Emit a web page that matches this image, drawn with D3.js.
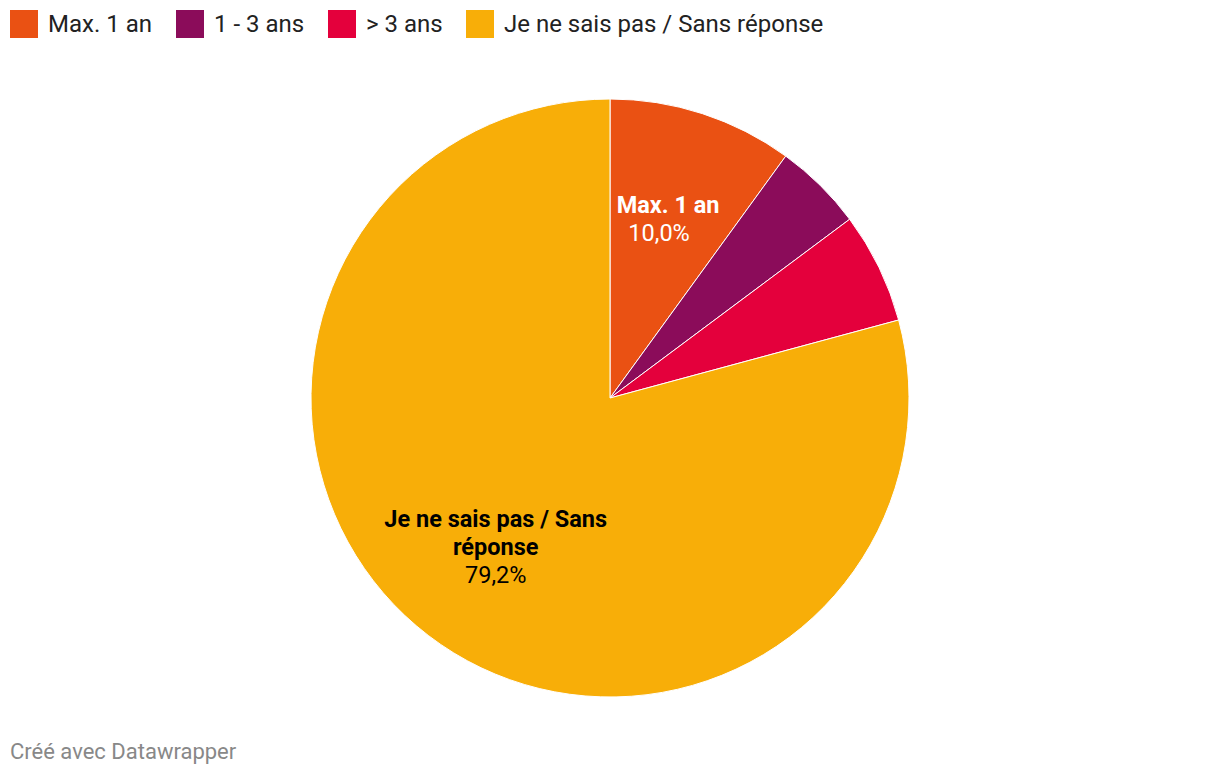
<!DOCTYPE html>
<html><head><meta charset="utf-8">
<script src="https://cdn.jsdelivr.net/npm/d3@7"></script>
<style>
body{margin:0;background:#fff;font-family:Roboto,"Noto Sans",sans-serif;}
</style></head>
<body>
<svg id="c" width="1220" height="774"></svg>
<script>
const categories = ["Max. 1 an", "1 - 3 ans", "> 3 ans", "Je ne sais pas / Sans réponse"];
const values = [10.0, 4.8, 6.0, 79.2];
const colors = ["#ea5113", "#8b0c5a", "#e4003c", "#f8ae08"];
const legendX = [10, 176, 328, 466];

const svg = d3.select("#c");
const cx = 610, cy = 398, R = 299;

const pie = d3.pie().sort(null).value(d => d)(values);
const arc = d3.arc().innerRadius(0).outerRadius(R);
const labelArc = d3.arc().innerRadius(188).outerRadius(188);

const g = svg.append("g").attr("transform", `translate(${cx},${cy})`);
g.selectAll("path").data(pie).join("path")
  .attr("d", arc)
  .attr("fill", (d, i) => colors[i])
  .attr("stroke", "#fff").attr("stroke-width", 1);

// labels for large slices
const labelled = [
  {i: 0, lines: ["Max. 1 an"], color: "#fff", pdx: -9},
  {i: 3, lines: ["Je ne sais pas / Sans", "réponse"], color: "#000", pdx: 0}
];
labelled.forEach(l => {
  const [x, y] = labelArc.centroid(pie[l.i]);
  const n = l.lines.length + 1;
  const lh = 28;
  const y0 = y - (n - 1) * lh / 2;
  const t = g.append("g").attr("fill", l.color).attr("text-anchor", "middle")
    .style("font-size", "23.5px");
  l.lines.forEach((s, k) => {
    t.append("text").attr("x", x).attr("y", y0 + k * lh).attr("dy", "0.35em")
      .style("font-weight", "700").text(s);
  });
  t.append("text").attr("x", x + l.pdx).attr("y", y0 + (n - 1) * lh).attr("dy", "0.35em")
    .text(d3.format(".1f")(values[l.i]).replace(".", ",") + "%");
});

// legend
const lg = svg.append("g");
categories.forEach((c, i) => {
  lg.append("rect").attr("x", legendX[i]).attr("y", 10).attr("width", 28).attr("height", 28)
    .attr("fill", colors[i]);
  lg.append("text").attr("x", legendX[i] + 38).attr("y", 24).attr("dy", "0.35em")
    .style("font-size", "24px").attr("fill", "#222").text(c);
});

svg.append("text").attr("x", 10).attr("y", 751).attr("dy", "0.35em")
  .style("font-size", "22px").attr("fill", "#888").text("Créé avec Datawrapper");
</script>
</body></html>
